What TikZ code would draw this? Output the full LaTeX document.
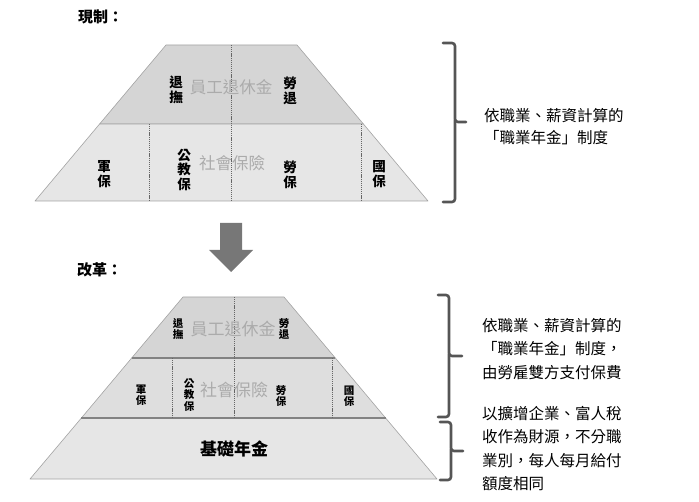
\documentclass[tikz,border=0pt]{standalone}
\usepackage{fontspec}
\setmainfont{Noto Sans CJK TC}
\usepackage{tikz}
\usetikzlibrary{positioning}
\usepackage{xcolor}
\definecolor{bandtop}{HTML}{D5D5D5}
\definecolor{bandmid}{HTML}{DEDEDE}
\definecolor{bandlow}{HTML}{E6E6E6}
\definecolor{edgegray}{HTML}{A3A3A3}
\definecolor{ghosttext}{HTML}{ABABAB}
\definecolor{bracegray}{HTML}{555555}
\definecolor{arrowgray}{HTML}{777777}

\begin{document}
\begin{tikzpicture}[
  x=1pt, y=-1pt,
  band/.style={fill=#1, draw=edgegray, line width=0.6pt, line join=round},
  seam/.style={draw=edgegray!80!black, line width=1.1pt},
  divider/.style={draw=black!60, line width=0.5pt, dash pattern=on 1.2pt off 0.9pt},
  vlabel/.style={font=\bfseries\fontsize{13.5}{14.5}\selectfont, align=center, inner sep=0pt},
  vsmall/.style={font=\bfseries\fontsize{10.5}{11.5}\selectfont, align=center, inner sep=0pt},
  ghost/.style={text=ghosttext, font=\fontsize{16.5}{18}\selectfont, inner sep=0pt},
  title/.style={font=\bfseries\fontsize{15}{16}\selectfont, anchor=west, inner sep=0pt},
  note/.style={font=\fontsize{15.5}{22}\selectfont, align=left, anchor=north west, inner sep=0pt},
  bracket/.style={draw=bracegray, line width=2.6pt, rounded corners=3pt, line cap=round}
]
\useasboundingbox (0,0) rectangle (699,502);

% ---------------- Current system ----------------
\node[title] (nowtitle) at (78,17) {現制：};

\fill[band=bandtop] (166,45) -- (297,45) -- (363.4,124) -- (99.6,124) -- cycle;
\fill[band=bandlow] (99.6,124) -- (363.4,124) -- (428,201) -- (35,201) -- cycle;
\draw[divider] (231,45) -- (231,201);
\draw[divider] (149,124) -- (149,201);
\draw[divider] (361,124) -- (361,201);

\node[ghost] (nowretire) at (231,87) {員工退休金};
\node[vlabel] (nowtuifu) at (176,90) {退\\撫};
\node[vlabel] (nowlaotui) at (290,91) {勞\\退};

\node[ghost] (nowsocial) at (232,163) {社會保險};
\node[vlabel] (nowjun) at (104,174) {軍\\保};
\node[vlabel] (nowgong) at (184,170) {公\\教\\保};
\node[vlabel] (nowlao) at (290,175) {勞\\保};
\node[vlabel] (nowguo) at (379,174) {國\\保};

\draw[bracket] (443,43) -| (455,122) -- (466,122);
\draw[bracket] (455,120) |- (443,202);
\node[note] (nownote) at (484,108) {依職業、薪資計算的\\「職業年金」制度};

% ---------------- Arrow ----------------
\fill[arrowgray] (220,223) -- (242,223) -- (242,250) -- (253,250) -- (231,272)
  -- (209,250) -- (220,250) -- cycle;

% ---------------- Reform ----------------
\node[title] (newtitle) at (77,270) {改革：};

\fill[band=bandtop] (183,297) -- (284,297) -- (335.3,358) -- (131.7,358) -- cycle;
\fill[band=bandmid] (131.7,358) -- (335.3,358) -- (385.6,418) -- (81.4,418) -- cycle;
\fill[band=bandlow] (81.4,418) -- (385.6,418) -- (437,479) -- (30,479) -- cycle;
\draw[seam] (131.7,358) -- (335.3,358);
\draw[seam] (81.4,418) -- (385.6,418);
\draw[divider] (234,297) -- (234,418);
\draw[divider] (172,358) -- (172,418);
\draw[divider] (332,358) -- (332,418);

\node[ghost, font=\fontsize{17}{18}\selectfont] (newretire) at (233,329) {員工退休金};
\node[vsmall] (newtuifu) at (178,329) {退\\撫};
\node[vsmall] (newlaotui) at (284,329) {勞\\退};

\node[ghost, font=\fontsize{17}{18}\selectfont] (newsocial) at (234,390) {社會保險};
\node[vsmall] (newjun) at (141,395) {軍\\保};
\node[vsmall] (newgong) at (189,395) {公\\教\\保};
\node[vsmall] (newlao) at (281,396) {勞\\保};
\node[vsmall] (newguo) at (349,396) {國\\保};

\node[font=\bfseries\fontsize{17}{18}\selectfont, inner sep=0pt] (basic) at (234,449) {基礎年金};

\draw[bracket] (438,295) -| (449,356) -- (462,356);
\draw[bracket] (449,354) |- (438,417);
\draw[bracket] (440,422) -| (451,451) -- (463,451);
\draw[bracket] (451,449) |- (440,480);

\node[note, font=\fontsize{15.5}{23.5}\selectfont] (payroll) at (482,318)
  {依職業、薪資計算的\\「職業年金」制度，\\由勞雇雙方支付保費};
\node[note, font=\fontsize{15.5}{23.5}\selectfont] (taxfund) at (482,406)
  {以擴增企業、富人稅\\收作為財源，不分職\\業別，每人每月給付\\額度相同};

\end{tikzpicture}
\end{document}
